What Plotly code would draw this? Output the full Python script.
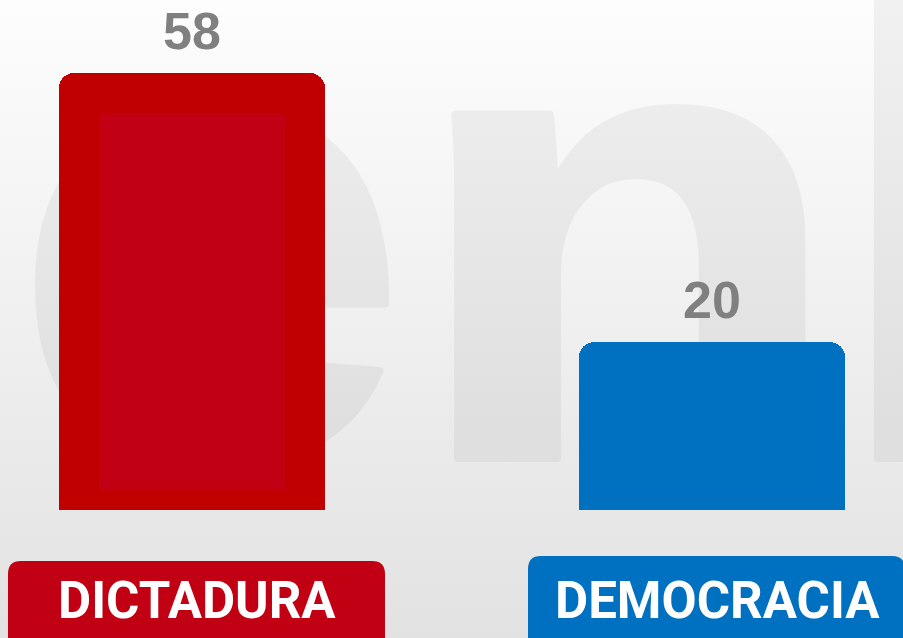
import base64
import plotly.graph_objects as go

# ---- data ----
CATEGORIES = ["DICTADURA", "DEMOCRACIA"]
VALUES = [58, 20]
VALUE_LABELS = ["58", "20"]
BAR_COLORS = ["#C00000", "#0070C0"]
LABEL_BOX_COLORS = ["#C20014", "#0070C0"]
WATERMARK = "enl"

# ---- styling constants ----
W, H = 903, 638
FLOOR_PAD = 3.7            # bars extend this far below zero (axis floor)
Y_RANGE = [-21.77 + FLOOR_PAD, 68.31 + FLOOR_PAD]
X_RANGE = [-0.3692, 1.3673]
BAR_WIDTH = 0.5115

xs = list(range(len(CATEGORIES)))

# background: vertical gradient + faint watermark letters (drawn below the bars)
letter_origins = [11.5, 408.6, 828.4]
letters_svg = "".join(
    f'<text transform="translate({ox},458) scale(1.1,1)" x="0" y="0">{ch}</text>'
    for ch, ox in zip(WATERMARK, letter_origins)
)
svg = f'''<svg xmlns="http://www.w3.org/2000/svg" width="{W}" height="{H}" viewBox="0 0 {W} {H}">
<defs><linearGradient id="g" x1="0" y1="0" x2="0" y2="1">
<stop offset="0" stop-color="#fdfdfd"/><stop offset="1" stop-color="#e2e2e2"/></linearGradient></defs>
<rect width="{W}" height="{H}" fill="url(#g)"/>
<g opacity="0.045" font-family="Liberation Sans, Arial, sans-serif" font-weight="bold"
 font-size="650" fill="#000" stroke="#000" stroke-width="8" stroke-linejoin="round">{letters_svg}</g>
</svg>'''
svg_uri = "data:image/svg+xml;base64," + base64.b64encode(svg.encode()).decode()

fig = go.Figure()
# floor segment (same colour) so the value segment starts at the axis floor
fig.add_trace(go.Bar(
    x=xs, y=[FLOOR_PAD] * len(xs), width=BAR_WIDTH,
    marker=dict(color=BAR_COLORS, line=dict(width=0)),
    hoverinfo="skip", showlegend=False,
))
fig.add_trace(go.Bar(
    x=xs, y=VALUES, width=BAR_WIDTH,
    marker=dict(color=BAR_COLORS, line=dict(width=0)),
    hoverinfo="skip", showlegend=False,
))

shapes = []
annotations = []

# inner panel of the first bar
shapes.append(dict(
    type="rect", xref="x", yref="y", xsizemode="pixel", ysizemode="pixel",
    xanchor=xs[0], yanchor=VALUES[0] + FLOOR_PAD, x0=-93, x1=93, y0=-40, y1=-417,
    fillcolor="#C10013", line=dict(width=0), layer="above",
))

def rounded_path(x0, x1, y0, y1, r):
    return (f"M {x0},{y0} L {x0},{y1 - r} Q {x0},{y1} {x0 + r},{y1} "
            f"L {x1 - r},{y1} Q {x1},{y1} {x1},{y1 - r} L {x1},{y0} Z")

box_tops = [77, 82]
for i, cat in enumerate(CATEGORIES):
    shapes.append(dict(
        type="path", xref="x", yref="paper", xsizemode="pixel", ysizemode="pixel",
        xanchor=xs[i], yanchor=0,
        path=rounded_path(-184, 193, -20, box_tops[i], 13),
        fillcolor=LABEL_BOX_COLORS[i], line=dict(width=0), layer="above",
    ))
    annotations.append(dict(
        x=xs[i], y=0, xref="x", yref="paper", xshift=5, yshift=38,
        xanchor="center", yanchor="middle", showarrow=False, text=cat,
        font=dict(family="Roboto, Liberation Sans, sans-serif",
                  size=51, color="white", weight="bold"),
    ))
    annotations.append(dict(
        x=xs[i], y=VALUES[i] + FLOOR_PAD, xref="x", yref="y", yshift=42,
        xanchor="center", yanchor="middle", showarrow=False, text=VALUE_LABELS[i],
        font=dict(family="Liberation Sans, Arial, sans-serif", size=52,
                  color="#808080", weight="bold"),
    ))

fig.update_layout(
    width=W, height=H, margin=dict(l=0, r=0, t=0, b=0),
    paper_bgcolor="#ffffff", plot_bgcolor="rgba(0,0,0,0)",
    barmode="stack", barcornerradius=15,
    xaxis=dict(range=X_RANGE, visible=False, fixedrange=True),
    yaxis=dict(range=Y_RANGE, visible=False, fixedrange=True),
    images=[dict(source=svg_uri, xref="paper", yref="paper", x=0, y=1,
                 sizex=1, sizey=1, xanchor="left", yanchor="top",
                 sizing="stretch", layer="below")],
    shapes=shapes, annotations=annotations,
)

fig.write_html("out.html", config={"displayModeBar": False, "staticPlot": True})

# remove the default page margin so the chart fills the window
with open("out.html", encoding="utf-8") as f:
    html = f.read()
html = html.replace("<head>", "<head><style>html,body{margin:0;padding:0;overflow:hidden}</style>", 1)
with open("out.html", "w", encoding="utf-8") as f:
    f.write(html)
